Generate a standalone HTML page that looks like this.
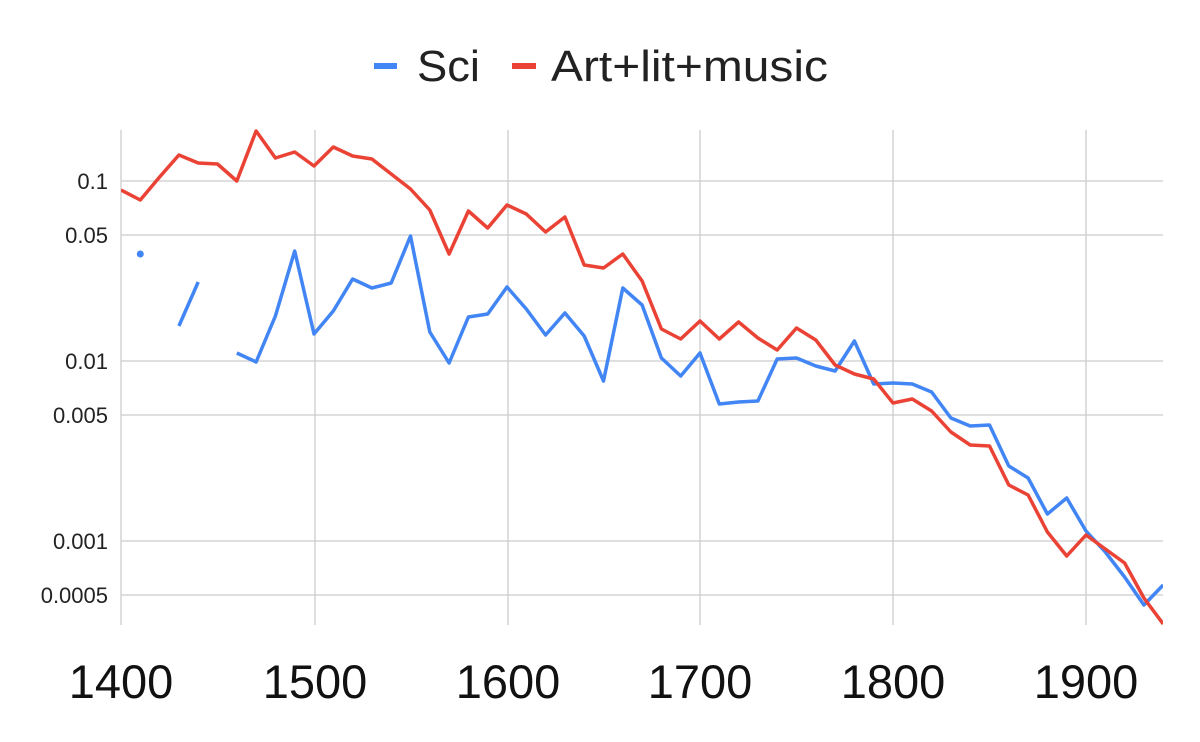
<!DOCTYPE html>
<html><head><meta charset="utf-8"><style>body{margin:0;background:#fff}svg{display:block}</style></head><body>
<svg width="1200" height="742" viewBox="0 0 1200 742" xmlns="http://www.w3.org/2000/svg" font-family="Liberation Sans, Arial, sans-serif">
<rect width="1200" height="742" fill="#fff"/>
<g stroke="#cccccc" stroke-width="1.3">
<line x1="121" y1="181" x2="1163" y2="181"/><line x1="121" y1="235" x2="1163" y2="235"/>
<line x1="121" y1="361" x2="1163" y2="361"/><line x1="121" y1="415" x2="1163" y2="415"/>
<line x1="121" y1="541" x2="1163" y2="541"/><line x1="121" y1="595" x2="1163" y2="595"/>
<line x1="121" y1="130" x2="121" y2="625"/><line x1="315" y1="130" x2="315" y2="625"/>
<line x1="508" y1="130" x2="508" y2="625"/><line x1="700" y1="130" x2="700" y2="625"/>
<line x1="893" y1="130" x2="893" y2="625"/><line x1="1086" y1="130" x2="1086" y2="625"/>
</g>
<g font-size="22" fill="#222" text-anchor="end">
<text x="108" y="189">0.1</text><text x="108" y="243">0.05</text><text x="108" y="369">0.01</text>
<text x="108" y="423">0.005</text><text x="108" y="549">0.001</text><text x="108" y="603">0.0005</text>
</g>
<g font-size="47" fill="#111" text-anchor="middle">
<text x="121" y="698">1400</text><text x="315" y="698">1500</text><text x="508" y="698">1600</text>
<text x="700" y="698">1700</text><text x="893" y="698">1800</text><text x="1086" y="698">1900</text>
</g>
<line x1="374" y1="66" x2="397" y2="66" stroke="#4285f4" stroke-width="6"/>
<text x="417" y="81" font-size="44" fill="#222" textLength="63" lengthAdjust="spacingAndGlyphs">Sci</text>
<line x1="512" y1="66" x2="536" y2="66" stroke="#ea4335" stroke-width="6"/>
<text x="551" y="81" font-size="44" fill="#222" textLength="277" lengthAdjust="spacingAndGlyphs">Art+lit+music</text>
<defs><clipPath id="c"><rect x="121" y="120" width="1042" height="508"/></clipPath></defs>
<g clip-path="url(#c)" fill="none" stroke-width="3.5" stroke-linejoin="round">
<circle cx="140.3" cy="254" r="3.5" fill="#4285f4" stroke="none"/>
<polyline stroke="#4285f4" points="178.9,326 198.2,282"/>
<polyline stroke="#4285f4" points="236.8,353 256.1,362 275.4,316 294.7,251 314,334 333.3,311 352.6,279 371.9,288 391.2,283 410.5,236 429.8,332 449.1,363 468.4,317 487.7,314 507,287 526.3,309 545.6,335 564.9,313 584.2,336 603.5,381 622.8,288 642.1,305 661.4,358 680.7,376 700,353 719.3,404 738.6,402 757.9,401 777.2,359 796.5,358 815.8,366 835.1,371 854.4,341 873.7,384 893,383 912.3,384 931.6,392 950.9,418 970.2,426 989.5,425 1008.8,466 1028.1,478 1047.4,514 1066.7,498 1086,531 1105.3,552 1124.6,577 1143.9,605 1163.2,585"/>
<polyline stroke="#ea4335" points="121,190 140.3,200 159.6,177 178.9,155 198.2,163 217.5,164 236.8,181 256.1,131 275.4,158 294.7,152 314,166 333.3,147 352.6,156 371.9,159 391.2,174 410.5,189 429.8,210 449.1,254 468.4,211 487.7,228 507,205 526.3,214 545.6,232 564.9,217 584.2,265 603.5,268 622.8,254 642.1,281 661.4,329 680.7,339 700,321 719.3,339 738.6,322 757.9,338 777.2,350 796.5,328 815.8,340 835.1,365 854.4,374 873.7,379 893,403 912.3,399 931.6,411 950.9,432 970.2,445 989.5,446 1008.8,485 1028.1,495 1047.4,532 1066.7,556 1086,535 1105.3,549 1124.6,563 1143.9,598 1163.2,624"/>
</g>
</svg>
</body></html>
